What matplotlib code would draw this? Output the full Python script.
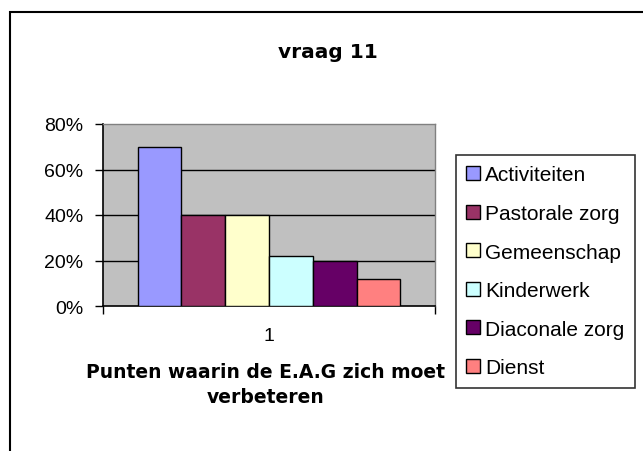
import matplotlib.pyplot as plt
from matplotlib.patches import Rectangle

plt.rcParams['font.family'] = ['Liberation Sans', 'DejaVu Sans']

# data
series = ['Activiteiten', 'Pastorale zorg', 'Gemeenschap', 'Kinderwerk', 'Diaconale zorg', 'Dienst']
values = [0.70, 0.40, 0.40, 0.22, 0.20, 0.12]
colors = ['#9999FF', '#993366', '#FFFFCC', '#CCFFFF', '#660066', '#FF8080']
category = ['1']
yticks = [0, 0.2, 0.4, 0.6, 0.8]
ytick_labels = ['0%', '20%', '40%', '60%', '80%']

fig = plt.figure(figsize=(6.43, 4.52), dpi=100)
fig.patch.set_facecolor('white')

# outer chart border (right/bottom edges fall outside the picture)
fig.patches.append(Rectangle((10 / 643, -0.1), 1.2, 1 - 13 / 452 + 0.1,
                             transform=fig.transFigure, fill=False,
                             edgecolor='black', linewidth=1.5))

ax = fig.add_axes([103 / 643, 1 - 307 / 452, 332 / 643, 182 / 452])
ax.set_facecolor('#C0C0C0')

w = 0.132
n = len(series)
for i, (name, v, c) in enumerate(zip(series, values, colors)):
    x = (i - (n - 1) / 2) * w
    ax.bar(x, v, width=w, color=c, edgecolor='black', linewidth=1.0,
           label=name, zorder=3)

ax.set_xlim(-0.5, 0.5)
ax.set_ylim(0, 0.8)
ax.set_yticks(yticks)
ax.set_yticklabels(ytick_labels, fontsize=14)
for y in yticks[1:4]:
    ax.axhline(y, color='black', linewidth=1.0, zorder=1)

ax.set_xticks([0])
ax.set_xticklabels(category, fontsize=14)
ax.tick_params(axis='x', length=0, pad=15)
ax.set_xticks([-0.5, 0.5], minor=True)
ax.tick_params(axis='x', which='minor', length=6, width=1, direction='out')
ax.tick_params(axis='y', length=6, width=1, direction='out', pad=8)

for s in ['top', 'right']:
    ax.spines[s].set_color('#808080')
    ax.spines[s].set_linewidth(1)
for s in ['left', 'bottom']:
    ax.spines[s].set_color('black')
    ax.spines[s].set_linewidth(1.2)

ax.set_xlabel('Punten waarin de E.A.G zich moet\nverbeteren', fontsize=13.5,
              fontweight='bold', family='DejaVu Sans', linespacing=1.4,
              va='top')
ax.xaxis.set_label_coords(0.49, -0.31)

fig.text(328 / 643, 1 - 52 / 452, 'vraag 11', ha='center', va='center',
         fontsize=14.5, fontweight='bold', family='DejaVu Sans')

leg = fig.legend(loc='upper left', bbox_to_anchor=(456 / 643, 1 - 156 / 452),
                 fontsize=15, frameon=True, fancybox=False, borderaxespad=0,
                 handlelength=0.65, handleheight=0.65, handletextpad=0.25,
                 labelspacing=0.94, borderpad=0.5)
leg.get_frame().set_edgecolor('black')
leg.get_frame().set_linewidth(1.2)

plt.savefig('out.png', dpi=100)
